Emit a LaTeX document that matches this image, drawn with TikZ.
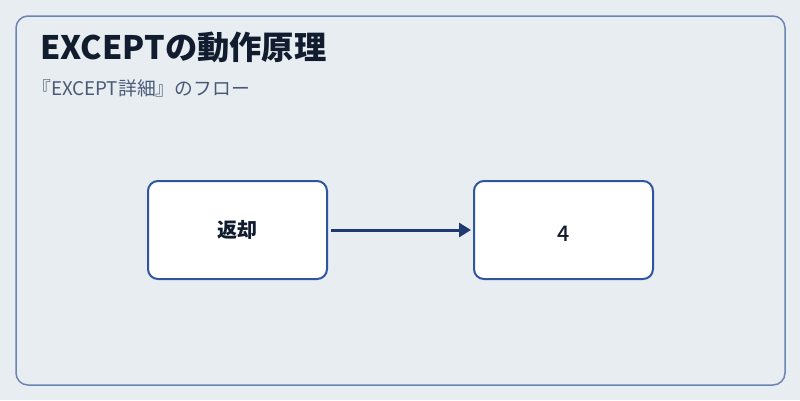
\documentclass[tikz,border=0pt]{standalone}
\usepackage{fontspec}
\setmainfont{Noto Sans CJK JP}
\newfontfamily\medfont{Noto Sans CJK JP Medium}
\usetikzlibrary{arrows.meta}
\definecolor{bgc}{HTML}{E8EDF2}
\definecolor{framec}{HTML}{6B84B0}
\definecolor{boxc}{HTML}{2F55A0}
\definecolor{arrc}{HTML}{1F3A70}
\definecolor{titlec}{HTML}{111C2E}
\definecolor{subc}{HTML}{4A5A75}
\tikzset{
  stepbox/.style={draw=boxc, line width=2pt, fill=white, rounded corners=10pt, minimum width=179pt, minimum height=98pt, inner sep=0pt},
  flow/.style={draw=arrc, line width=3pt, -{Triangle[length=12pt,width=14pt]}},
}
\begin{document}
\begin{tikzpicture}[x=1pt,y=-1pt]
\useasboundingbox (0,0) rectangle (800,400);
\fill[bgc] (0,0) rectangle (800,400);
\draw[framec, line width=1.5pt, rounded corners=12pt] (16,16) rectangle (785,385);
\node[anchor=base west, inner sep=0pt, text=titlec, font=\fontsize{32.3}{38}\selectfont\bfseries] (title) at (40,59) {EXCEPTの動作原理};
\node[anchor=base west, inner sep=0pt, text=subc, font=\fontsize{18.8}{22}\selectfont] (sub) at (32,95) {『EXCEPT詳細』のフロー};
\node[stepbox, text=titlec, font=\fontsize{20}{24}\selectfont\bfseries] (a) at (237.5,230) {返却};
\node[stepbox, text=titlec, font=\fontsize{21.5}{24}\medfont] (b) at (563.5,230) {\raisebox{-11.8pt}[0pt][0pt]{4}};
\draw[flow] ([xshift=3pt]a.east) -- ([xshift=-2pt]b.west);
\end{tikzpicture}
\end{document}
